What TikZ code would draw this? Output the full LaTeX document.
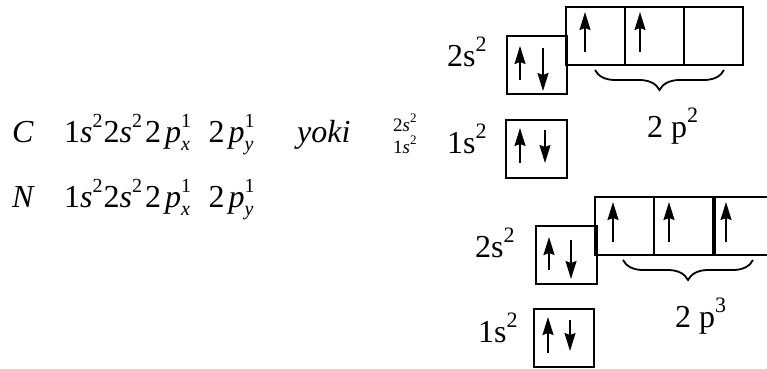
\documentclass[tikz,border=0pt]{standalone}
\usepackage{fontspec}
\setmainfont{Liberation Serif}
\usetikzlibrary{arrows.meta,decorations.pathreplacing}
\newcommand\Sup[2]{\raisebox{0.46em}{\fontsize{#2}{#2}\selectfont #1}}
\newcommand\SupSub[3]{\makebox[0.52em][l]{\rlap{\raisebox{0.46em}{\fontsize{#3}{#3}\selectfont #1}}\raisebox{-0.26em}{\fontsize{#3}{#3}\selectfont\itshape #2}}}
\newcommand\cfg{1\textit{s}\Sup{2}{20}\hspace{1pt}2\textit{s}\Sup{2}{20}\hspace{3pt}2\hspace{4pt}\textit{p}\SupSub{1}{x}{20}\hspace{11pt}2\hspace{4pt}\textit{p}\SupSub{1}{y}{20}}
\begin{document}
\begin{tikzpicture}[x=1pt,y=-1pt,
  orb/.style={draw,line width=2pt,inner sep=0pt,minimum width=59pt,minimum height=58pt},
  spin/.style={line width=1.7pt,-{Stealth[length=18pt,width=11pt,inset=2pt]}},
  big/.style={font=\fontsize{32}{32}\selectfont,inner sep=0pt},
  lt/.style={font=\fontsize{32}{32}\selectfont,inner sep=0pt},
  sm/.style={font=\fontsize{19}{19}\selectfont,inner sep=0pt},
  brc/.style={decorate,decoration={brace,mirror,amplitude=20pt},line width=1.8pt}]
\useasboundingbox (0,0) rectangle (767,368);
% left text
\node[lt,anchor=base west] (C) at (12,142) {\textit{C}};
\node[lt,anchor=base west] (Ccfg) at (64,142) {\cfg};
\node[lt,anchor=base west] (yoki) at (297,142) {\textit{yoki}};
\node[sm,anchor=base west] (s2) at (393,131) {2\textit{s}\Sup{2}{13}};
\node[sm,anchor=base west] (s1) at (393,153) {1\textit{s}\Sup{2}{13}};
\node[lt,anchor=base west] (N) at (12,207) {\textit{N}};
\node[lt,anchor=base west] (Ncfg) at (64,207) {\cfg};
% top diagram (C)
\node[orb,minimum width=60pt] (a2s) at (537,64.5) {};
\node[orb,minimum width=61pt] (a1s) at (536,148.5) {};
\node[orb] (a2p1) at (595.5,36) {};
\node[orb] (a2p2) at (654,36) {};
\node[orb] (a2p3) at (713.5,36) {};
\draw[spin] (520,80) -- (520,46);
\draw[spin] (543,48) -- (543,91);
\draw[spin] (520,163) -- (520,128);
\draw[spin] (545,130) -- (545,163);
\draw[spin] (585,52) -- (585,12);
\draw[spin] (640,52) -- (640,12);
\draw[brc] (595,70) -- (724,70);
\node[big,anchor=base west] (a2sl) at (447,66) {2s\Sup{2}{22}};
\node[big,anchor=base west] (a1sl) at (447,153) {1s\Sup{2}{22}};
\node[big,anchor=base west] (a2pl) at (647,137) {2 p\Sup{2}{22}};
% bottom diagram (N)
\node[orb,minimum width=61pt] (b2s) at (566.5,254.5) {};
\node[orb,minimum width=60pt] (b1s) at (564,338) {};
\node[orb] (b2p1) at (624,226) {};
\node[orb] (b2p2) at (683,226) {};
\node[orb] (b2p3) at (744,226) {};
\draw[spin] (549,270) -- (549,237);
\draw[spin] (571,240) -- (571,279);
\draw[spin] (548,353) -- (548,317);
\draw[spin] (570,320) -- (570,351);
\draw[spin] (613,242) -- (613,202);
\draw[spin] (669,242) -- (669,202);
\draw[spin] (726,242) -- (726,202);
\draw[brc] (623,260) -- (753,260);
\node[big,anchor=base west] (b2sl) at (475,257) {2s\Sup{2}{22}};
\node[big,anchor=base west] (b1sl) at (478,342) {1s\Sup{2}{22}};
\node[big,anchor=base west] (b2pl) at (675,327) {2 p\Sup{3}{22}};
\end{tikzpicture}
\end{document}
